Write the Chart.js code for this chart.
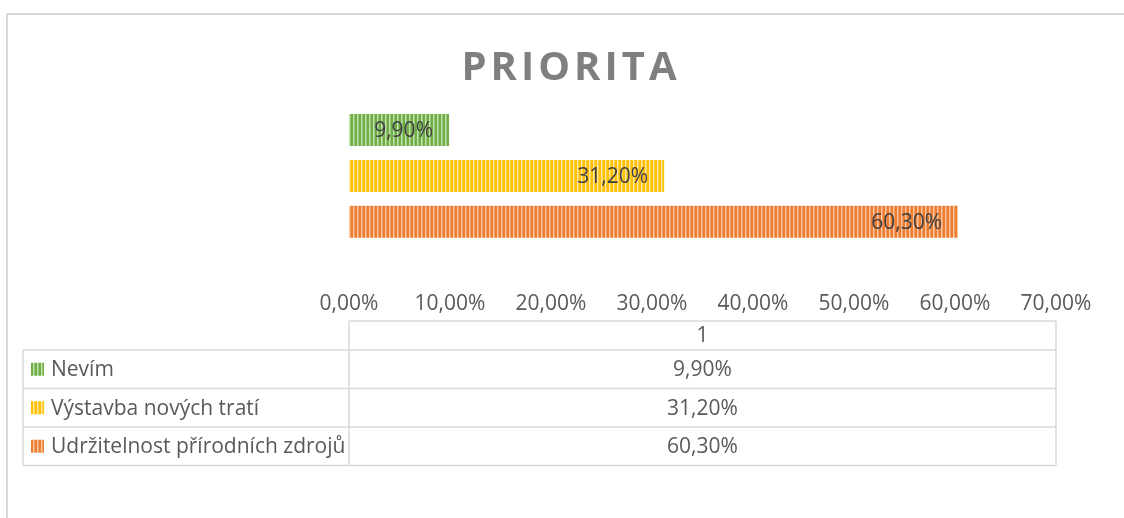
<!DOCTYPE html>
<html>
<head>
<meta charset="utf-8">
<script src="https://cdn.jsdelivr.net/npm/chart.js@4/dist/chart.umd.min.js"></script>
<style>
body { margin: 0; background: #fff; overflow: hidden; }
#frame { position: absolute; left: 6px; top: 13px; width: 1130px; height: 520px; border: 2px solid #d9d9d9; box-sizing: border-box; }
#wrap { position: absolute; left: 0; top: 0; width: 1124px; height: 518px; }
</style>
</head>
<body>
<div id="frame"></div>
<div id="wrap"><canvas id="chart"></canvas></div>
<script>
const titleText = 'PRIORITA';
const categories = ['1'];
const seriesNames = ['Nevím', 'Výstavba nových tratí', 'Udržitelnost přírodních zdrojů'];
const seriesValues = [9.9, 31.2, 60.3];
const tickMax = 70;
const tickStep = 10;

const baseColors = ['#70ad47', '#ffc000', '#ed7d31'];
const stripeColors = ['#c5e2b1', '#ffe6a0', '#f9c8a5'];
const midColors = ['#94c775', '#ffd24d', '#f29d63'];
const textColor = '#595959';
const fontFamily = "'Open Sans', sans-serif";

function fmt(v) {
	return Number(v).toFixed(2).replace('.', ',') + '%';
}

// vertical stripe fill like the Excel pattern
function stripes(base, light, mid) {
	const c = document.createElement('canvas');
	c.width = 4;
	c.height = 4;
	const g = c.getContext('2d');
	g.fillStyle = base;
	g.fillRect(0, 0, 4, 4);
	g.fillStyle = light;
	g.fillRect(1, 0, 1, 4);
	g.fillStyle = mid;
	g.fillRect(2, 0, 1, 4);
	return g.createPattern(c, 'repeat');
}

const patterns = baseColors.map((c, i) => stripes(c, stripeColors[i], midColors[i]));

const titlePlugin = {
	id: 'bigTitle',
	afterDraw(chart) {
		const ctx = chart.ctx;
		ctx.save();
		ctx.font = "bold 40px " + fontFamily;
		ctx.fillStyle = '#7f7f7f';
		ctx.letterSpacing = '4px';
		ctx.textAlign = 'left';
		ctx.textBaseline = 'alphabetic';
		const w = ctx.measureText(titleText).width - 4;
		ctx.fillText(titleText, 569 - w / 2, 79.5);
		ctx.restore();
	}
};

const labelPlugin = {
	id: 'barLabels',
	afterDatasetsDraw(chart) {
		const ctx = chart.ctx;
		ctx.save();
		ctx.font = "21px " + fontFamily;
		ctx.fillStyle = '#404040';
		ctx.textAlign = 'right';
		ctx.textBaseline = 'middle';
		chart.data.datasets.forEach((ds, i) => {
			const bar = chart.getDatasetMeta(i).data[0];
			ctx.fillText(fmt(ds.data[0]), bar.x - 16, bar.y + 1);
		});
		ctx.restore();
	}
};

const tablePlugin = {
	id: 'dataTable',
	afterDraw(chart) {
		const ctx = chart.ctx;
		const a = chart.chartArea;
		const left = 23, headTop = 321, headBottom = 350, rowH = 38.5;
		const rows = chart.data.datasets.length;
		const bottom = headBottom + rows * rowH;
		ctx.save();
		ctx.strokeStyle = '#d9d9d9';
		ctx.lineWidth = 1.5;
		ctx.beginPath();
		ctx.moveTo(a.left, headTop); ctx.lineTo(a.right, headTop);
		ctx.moveTo(a.left, headTop); ctx.lineTo(a.left, bottom);
		ctx.moveTo(a.right, headTop); ctx.lineTo(a.right, bottom);
		ctx.moveTo(left, headBottom); ctx.lineTo(left, bottom);
		for (let i = 0; i <= rows; i++) {
			const y = headBottom + i * rowH;
			ctx.moveTo(left, y); ctx.lineTo(a.right, y);
		}
		ctx.stroke();

		ctx.font = "21px " + fontFamily;
		ctx.fillStyle = textColor;
		ctx.textBaseline = 'middle';
		const mid = (a.left + a.right) / 2;
		ctx.textAlign = 'center';
		ctx.fillText(chart.data.labels[0], mid, (headTop + headBottom) / 2 + 1);

		chart.data.datasets.forEach((ds, i) => {
			const cy = headBottom + i * rowH + rowH / 2;
			ctx.fillStyle = patterns[i];
			ctx.fillRect(31, cy - 6.5, 13, 13);
			ctx.fillStyle = textColor;
			ctx.textAlign = 'left';
			ctx.fillText(ds.label, 51, cy + 1);
			ctx.textAlign = 'center';
			ctx.fillText(fmt(ds.data[0]), mid, cy + 1);
		});
		ctx.restore();
	}
};

const datasets = seriesNames.map((name, i) => ({
	label: name,
	data: [seriesValues[i]],
	backgroundColor: patterns[i],
	borderWidth: 0,
	categoryPercentage: 0.8625,
	barPercentage: 0.696,
}));

const ctx = document.getElementById('chart');
new Chart(ctx, {
	type: 'bar',
	data: {
		labels: categories,
		datasets: datasets,
	},
	options: {
		indexAxis: 'y',
		responsive: true,
		maintainAspectRatio: false,
		animation: false,
		layout: {
			padding: { top: 96, left: 349, right: 68, bottom: 165 },
		},
		plugins: {
			legend: { display: false },
			title: { display: false },
			tooltip: { enabled: false },
		},
		scales: {
			x: {
				min: 0,
				max: tickMax,
				grid: { display: false, drawTicks: false },
				border: { display: false },
				ticks: {
					stepSize: tickStep,
					padding: 36,
					color: textColor,
					font: { family: fontFamily, size: 21 },
					callback: (v) => fmt(v),
				},
				afterFit: (scale) => {
					// labels may spill into the side padding
					scale.paddingLeft = 0;
					scale.paddingRight = 0;
				},
			},
			y: { display: false },
		},
	},
	plugins: [titlePlugin, labelPlugin, tablePlugin],
});
</script>
</body>
</html>
